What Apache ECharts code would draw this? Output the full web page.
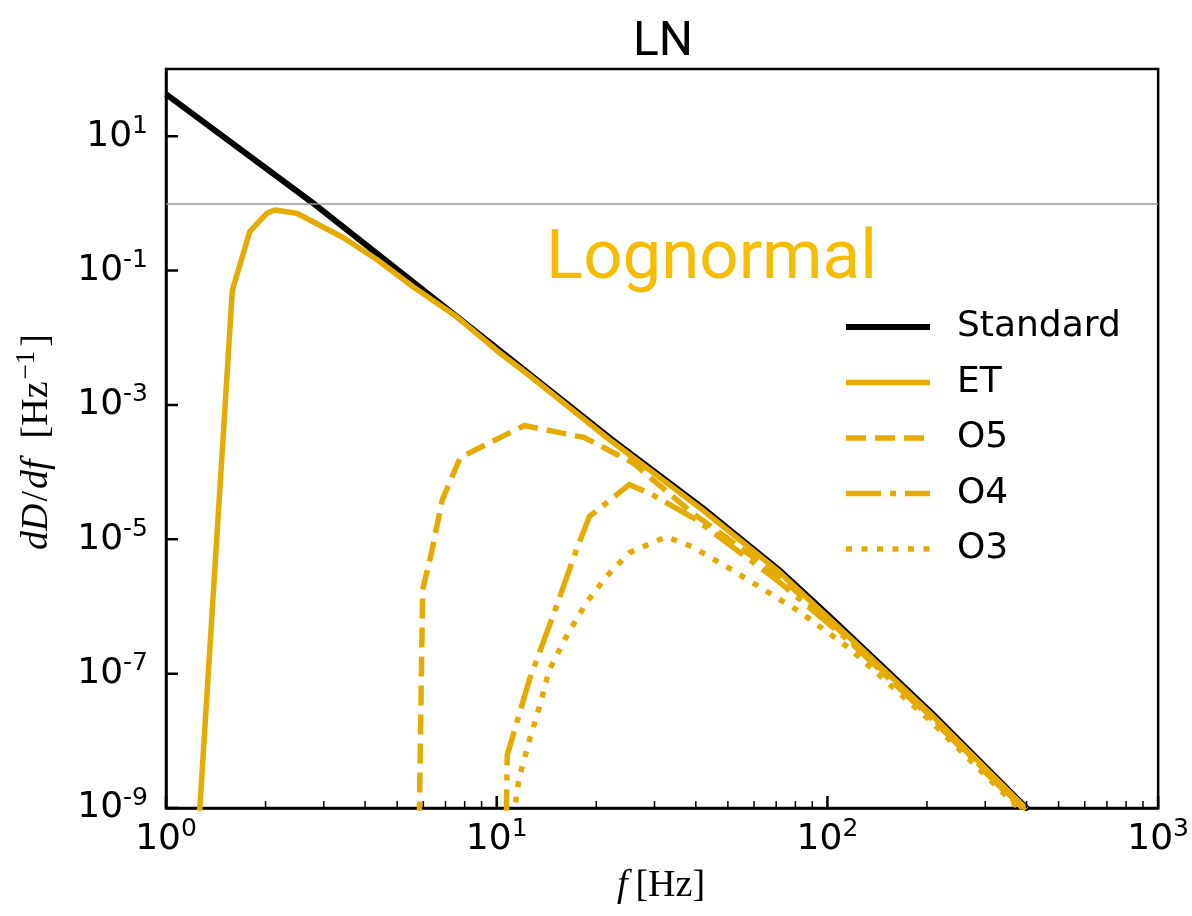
<!DOCTYPE html>
<html>
<head>
<meta charset="utf-8">
<script src="https://cdn.jsdelivr.net/npm/echarts@6/dist/echarts.min.js"></script>
<style>
  html, body { margin: 0; padding: 0; background: #ffffff; }
  #chart { width: 1192px; height: 916px; }
</style>
</head>
<body>
<div id="chart"></div>
<script>
// Frequency samples (Hz) and dD/df values (Hz^-1) for each curve
const standardF = [1, 2.76, 10, 22.3, 41.8, 71.3, 100, 206.5, 405];
const standardV = [42.3, 1.04, 7.03e-3, 3.05e-4, 2.96e-5, 3.52e-6, 7.59e-7, 2.61e-8, 9.4e-10];

const etF = [1.259, 1.587, 1.793, 2.018, 2.133, 2.485, 3.42, 4.33, 5.57, 7.55, 10, 12.55, 22.3, 41.8, 71.3, 116, 206.5, 400];
const etV = [6.6e-10, 0.0507, 0.384, 0.712, 0.798, 0.712, 0.313, 0.147, 0.058, 0.0207, 6.46e-3, 2.74e-3, 2.85e-4, 2.76e-5, 3.29e-6, 3.53e-7, 2.43e-8, 9.6e-10];

const o5F = [5.78, 5.97, 6.35, 6.85, 7.76, 12.12, 18.4, 25.7, 38.96, 71.3, 116, 206.5, 389];
const o5V = [3.2e-11, 1.77e-6, 6.3e-6, 3.9e-5, 1.65e-4, 4.93e-4, 3.27e-4, 1.39e-4, 2.49e-5, 2.88e-6, 3.31e-7, 2.26e-8, 1.0e-9];

const o4F = [10.56, 10.76, 12.56, 15.14, 17.42, 19.05, 25.16, 29.5, 40.1, 71.3, 116, 206.5, 386];
const o4V = [1e-11, 6.17e-9, 8.13e-8, 9.9e-7, 7.0e-6, 2.17e-5, 6.52e-5, 4.62e-5, 1.96e-5, 2.34e-6, 3.09e-7, 2.14e-8, 1.0e-9];

const o3F = [10.85, 11.71, 12.56, 13.46, 14.42, 16.22, 18.66, 21.43, 25.16, 32.5, 39.0, 51.4, 66.5, 82.0, 116, 206.5, 378];
const o3V = [2.5e-10, 2.9e-9, 1.03e-8, 3.2e-8, 1.14e-7, 3.53e-7, 1.135e-6, 2.77e-6, 6.3e-6, 1.09e-5, 7.76e-6, 3.52e-6, 1.6e-6, 8.5e-7, 2.42e-7, 1.91e-8, 1.0e-9];

// Axis extents, tick positions and the reference level
const xRange = [1, 1000];
const yRange = [1e-9, 100];
const xMajorTicks = [1, 10, 100, 1000];
const xMinorTicks = [2, 3, 4, 5, 6, 7, 8, 9, 20, 30, 40, 50, 60, 70, 80, 90, 200, 300, 400, 500, 600, 700, 800, 900];
const yTickValues = [1e-9, 1e-7, 1e-5, 1e-3, 1e-1, 10];
const referenceLevel = 1;

const legendNames = ['Standard', 'ET', 'O5', 'O4', 'O3'];

const amber = '#e6ab02';
const pairs = (fs, vs) => fs.map((f, i) => [f, vs[i]]);

const expLabel = (v) => {
  const e = Math.round(Math.log10(v));
  return '{b|10}{s|' + e + '}';
};

const tickRich = {
  b: { fontFamily: 'DejaVu Sans', fontSize: 36, color: '#000' },
  s: { fontFamily: 'DejaVu Sans', fontSize: 25, color: '#000', padding: [0, 0, 20, 0] }
};

const serif = 'Liberation Serif';

function lineSeries(name, data, color, width, type) {
  return {
    name: name,
    type: 'line',
    data: data,
    symbol: 'none',
    showSymbol: false,
    clip: true,
    lineStyle: { color: color, width: width, type: type, cap: 'butt', join: 'round' },
    itemStyle: { color: color }
  };
}

// short black strokes used as inward axis ticks
function tickSeries(name, data, width) {
  return {
    name: name,
    type: 'line',
    data: data,
    symbol: 'none',
    showSymbol: false,
    silent: true,
    clip: false,
    connectNulls: false,
    z: 3,
    emphasis: { disabled: true },
    lineStyle: { color: '#000', width: width, type: 'solid', cap: 'butt' }
  };
}

const chart = echarts.init(document.getElementById('chart'));
const option = {
  animation: false,
  title: {
    text: 'LN',
    left: 663,
    top: 43,
    padding: 0,
    textAlign: 'center',
    textVerticalAlign: 'middle',
    textStyle: { fontFamily: 'Roboto', fontWeight: 'normal', fontSize: 48, color: '#000' }
  },
  grid: { left: 166, top: 69, right: 32, bottom: 108, show: true, borderColor: '#000', borderWidth: 2.5 },
  legend: {
    data: legendNames,
    orient: 'vertical',
    left: 838,
    top: 302,
    itemWidth: 84,
    itemHeight: 20,
    itemGap: 15.5,
    selectedMode: false,
    itemStyle: { opacity: 0 },
    lineStyle: { width: 'inherit', type: 'inherit' },
    textStyle: { fontFamily: 'DejaVu Sans', fontSize: 36, color: '#000', lineHeight: 40, padding: [0, 0, 0, 22] }
  },
  xAxis: {
    type: 'log',
    min: xRange[0],
    max: xRange[1],
    interval: 1,
    axisLine: { show: true, lineStyle: { color: '#000', width: 2.5 } },
    axisTick: { show: false },
    minorTick: { show: false },
    splitLine: { show: false },
    axisLabel: { margin: 9, formatter: expLabel, rich: tickRich }
  },
  yAxis: {
    type: 'log',
    min: yRange[0],
    max: yRange[1],
    interval: 1,
    axisLine: { show: true, lineStyle: { color: '#000', width: 2.5 } },
    axisTick: { show: false },
    splitLine: { show: false },
    axisLabel: {
      margin: 18,
      formatter: (v) => {
        const e = Math.round(Math.log10(v));
        return Math.abs(e) % 2 === 1 ? expLabel(v) : '';
      },
      rich: tickRich
    }
  },
  graphic: [
    {
      // curve family label
      type: 'text',
      left: 546,
      top: 226,
      style: { text: 'Lognormal', font: '69px Roboto', fill: '#f7bb00' }
    },
    {
      // x-axis title
      type: 'text',
      x: 661,
      y: 886,
      style: {
        text: '{i|f}{r|[Hz]}',
        align: 'center',
        verticalAlign: 'middle',
        rich: {
          i: { fontFamily: serif, fontStyle: 'italic', fontSize: 38, fill: '#000', padding: [0, 8, 0, 0] },
          r: { fontFamily: serif, fontSize: 38, fill: '#000' }
        }
      }
    },
    {
      // y-axis title, reading upwards
      type: 'text',
      x: 37,
      y: 441,
      rotation: Math.PI / 2,
      style: {
        text: '{i|dD}{r|/}{i|df}{r|  [Hz}{s|−1}{r|]}',
        align: 'center',
        verticalAlign: 'middle',
        rich: {
          i: { fontFamily: serif, fontStyle: 'italic', fontSize: 38, fill: '#000' },
          r: { fontFamily: serif, fontSize: 38, fill: '#000', padding: [0, 2, 0, 2] },
          s: { fontFamily: serif, fontSize: 27, fill: '#000', padding: [0, 2, 20, 0] }
        }
      }
    }
  ],
  series: [
    Object.assign(lineSeries('Standard', pairs(standardF, standardV), '#000000', 6, 'solid'), {
      markLine: {
        silent: true,
        symbol: ['none', 'none'],
        label: { show: false },
        lineStyle: { color: '#999999', width: 1.5, type: 'solid' },
        data: [{ yAxis: referenceLevel }]
      }
    }),
    lineSeries('ET', pairs(etF, etV), amber, 5.5, 'solid'),
    lineSeries('O5', pairs(o5F, o5V), amber, 5.5, [20, 9]),
    lineSeries('O4', pairs(o4F, o4V), amber, 5.5, [35, 9, 6, 9]),
    lineSeries('O3', pairs(o3F, o3V), amber, 5.5, [6, 9.5])
  ]
};
chart.setOption(option);

// Tick lengths are measured in screen pixels and mapped back through the axes
const corner = chart.convertToPixel({ gridIndex: 0 }, [xRange[0], yRange[0]]);
const yAbove = (px) => chart.convertFromPixel({ gridIndex: 0 }, [corner[0], corner[1] - px])[1];
const xRightOf = (px) => chart.convertFromPixel({ gridIndex: 0 }, [corner[0] + px, corner[1]])[0];
const majorTop = yAbove(12);
const minorTop = yAbove(7);
const yTickEnd = xRightOf(12);

const verticalTicks = (vals, top) => vals.flatMap(v => [[v, yRange[0]], [v, top], [v, '-']]);
const horizontalTicks = yTickValues.flatMap(v => [[xRange[0], v], [yTickEnd, v], [yTickEnd, '-']]);

option.series.push(
  tickSeries('xMajorTicks', verticalTicks(xMajorTicks, majorTop), 2.5),
  tickSeries('xMinorTicks', verticalTicks(xMinorTicks, minorTop), 1.5),
  tickSeries('yMajorTicks', horizontalTicks, 2.5)
);
chart.setOption(option);
</script>
</body>
</html>
